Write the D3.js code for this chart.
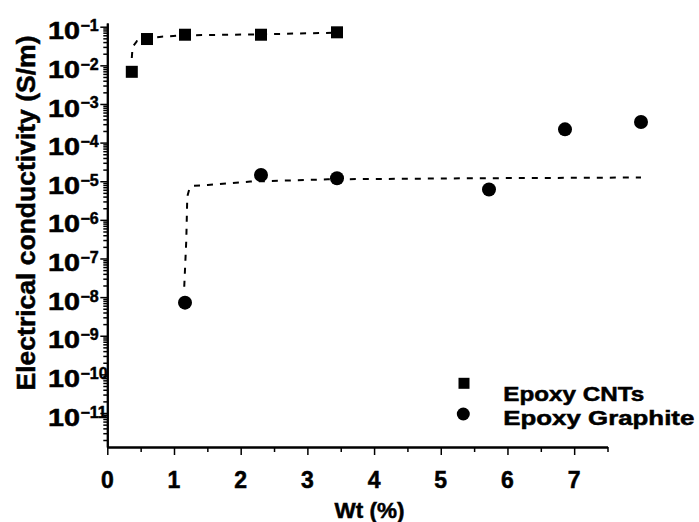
<!DOCTYPE html>
<html>
<head>
<meta charset="utf-8">
<script src="https://cdn.jsdelivr.net/npm/d3@7"></script>
<style>
  html, body { margin: 0; padding: 0; background: #fff; }
  svg { display: block; }
  text { font-family: "Liberation Sans", Arial, sans-serif; font-weight: bold; fill: #000; stroke: #000; stroke-width: 0.5px; }
</style>
</head>
<body>
<svg id="chart" width="699" height="522"></svg>
<script>
// ---------- data ----------
const cntX = [0.3, 0.5, 1, 2, 3];
const cntY = [0.0068, 0.048, 0.062, 0.062, 0.0716];

const graphiteX = [1, 2, 3, 5, 6, 7];
const graphiteY = [7.2e-9, 1.45e-5, 1.19e-5, 6.1e-6, 2.2e-4, 3.4e-4];

// dashed fit curves
const cntFitX = [0.3, 0.31, 0.37, 0.5, 0.69, 1, 2, 3];
const cntFitY = [0.0155, 0.0298, 0.0427, 0.0496, 0.0551, 0.0599, 0.0636, 0.07];

const graphiteFitX = [0.99, 1.017, 1.03, 1.06, 1.11, 1.3, 1.86, 2.88, 4.71, 7.0];
const graphiteFitY = [1.86e-8, 3e-7, 4e-6, 6.6e-6, 7.6e-6, 8e-6, 9.8e-6, 1.12e-5, 1.19e-5, 1.25e-5];

const xTicks = [0, 1, 2, 3, 4, 5, 6, 7];
const xMinorTicks = [0.5, 1.5, 2.5, 3.5, 4.5, 5.5, 6.5, 7.5];
const yTickExponents = [-1, -2, -3, -4, -5, -6, -7, -8, -9, -10, -11];

const seriesNames = ["Epoxy CNTs", "Epoxy Graphite"];
const xTitle = "Wt (%)";
const yTitle = "Electrical conductivity (S/m)";

// ---------- scales ----------
const svg = d3.select("#chart");
const xAxisScale = d3.scaleLinear().domain([0, 7.5]).range([107.3, 607.5]);
const xData = d3.scaleLinear().domain([0, 7.5]).range([109, 679]);
const y = d3.scaleLog().domain([Math.pow(10, -11.88), Math.pow(10, -0.904)]).range([447, 23]);

// ---------- axes ----------
const majorY = yTickExponents.map(e => Math.pow(10, e));
const minorY = [];
for (let e = -12; e <= -1; e++) {
  for (let k = 2; k <= 9; k++) {
    const v = k * Math.pow(10, e);
    if (v >= y.domain()[0] && v <= y.domain()[1]) minorY.push(v);
  }
}

function styleAxis(g) {
  g.select(".domain").attr("stroke", "#000").attr("stroke-width", 2);
  g.selectAll(".tick line").attr("stroke", "#000").attr("stroke-width", 1.5);
  g.selectAll(".tick text").remove();
}

svg.append("g").attr("transform", "translate(107.3,0)")
  .call(d3.axisLeft(y).tickValues(minorY).tickSize(4).tickSizeOuter(0).tickFormat(""))
  .call(styleAxis);
svg.append("g").attr("transform", "translate(107.3,0)")
  .call(d3.axisLeft(y).tickValues(majorY).tickSize(7).tickSizeOuter(0).tickFormat(""))
  .call(styleAxis);

svg.append("g").attr("transform", "translate(0,447)")
  .call(d3.axisBottom(xAxisScale).tickValues(xMinorTicks).tickSize(5).tickSizeOuter(0).tickFormat(""))
  .call(styleAxis);
svg.append("g").attr("transform", "translate(0,447)")
  .call(d3.axisBottom(xAxisScale).tickValues(xTicks).tickSize(8).tickSizeOuter(0).tickFormat(""))
  .call(styleAxis);

// y tick labels (10^n)
const yLab = svg.append("g");
yTickExponents.forEach(e => {
  const ty = y(Math.pow(10, e));
  yLab.append("text").attr("x", 48).attr("y", ty + 12.6)
    .attr("font-size", 23).attr("textLength", 32).attr("lengthAdjust", "spacingAndGlyphs")
    .text("10");
  yLab.append("text").attr("x", 80.5).attr("y", ty + 4.5)
    .attr("font-size", 16)
    .text("\u2212" + Math.abs(e));
});

// x tick labels
svg.append("g").selectAll("text").data(xTicks).join("text")
  .attr("x", d => xAxisScale(d)).attr("y", 488)
  .attr("text-anchor", "middle").attr("font-size", 23)
  .text(d => d);

// titles
svg.append("text").attr("x", 369.5).attr("y", 518)
  .attr("text-anchor", "middle").attr("font-size", 22.5).text(xTitle);
svg.append("text").attr("transform", "translate(34.5,213) rotate(-90)")
  .attr("text-anchor", "middle").attr("font-size", 26.5).text(yTitle);

// ---------- fit curves ----------
const line = d3.line().x(d => xData(d[0])).y(d => y(d[1]));
svg.append("path").datum(cntFitX.map((v, i) => [v, cntFitY[i]]))
  .attr("d", line).attr("fill", "none").attr("stroke", "#000")
  .attr("stroke-width", 2).attr("stroke-dasharray", "6,7");
svg.append("path").datum(graphiteFitX.map((v, i) => [v, graphiteFitY[i]]))
  .attr("d", line).attr("fill", "none").attr("stroke", "#000")
  .attr("stroke-width", 2).attr("stroke-dasharray", "6,7");

// ---------- markers ----------
svg.append("g").selectAll("rect").data(cntX.map((v, i) => [v, cntY[i]])).join("rect")
  .attr("x", d => xData(d[0]) - 6).attr("y", d => y(d[1]) - 6)
  .attr("width", 12).attr("height", 12).attr("fill", "#000");
svg.append("g").selectAll("circle").data(graphiteX.map((v, i) => [v, graphiteY[i]])).join("circle")
  .attr("cx", d => xData(d[0])).attr("cy", d => y(d[1]))
  .attr("r", 7).attr("fill", "#000");

// ---------- legend ----------
const lg = svg.append("g");
lg.append("rect").attr("x", 458.5).attr("y", 377.8).attr("width", 11).attr("height", 11).attr("fill", "#000");
lg.append("circle").attr("cx", 463.3).attr("cy", 414).attr("r", 6.5).attr("fill", "#000");
lg.append("text").attr("x", 503.3).attr("y", 401).attr("font-size", 20.5)
  .attr("textLength", 141).attr("lengthAdjust", "spacingAndGlyphs").text(seriesNames[0]);
lg.append("text").attr("x", 503.3).attr("y", 424.5).attr("font-size", 20.5)
  .attr("textLength", 191).attr("lengthAdjust", "spacingAndGlyphs").text(seriesNames[1]);
</script>
</body>
</html>
